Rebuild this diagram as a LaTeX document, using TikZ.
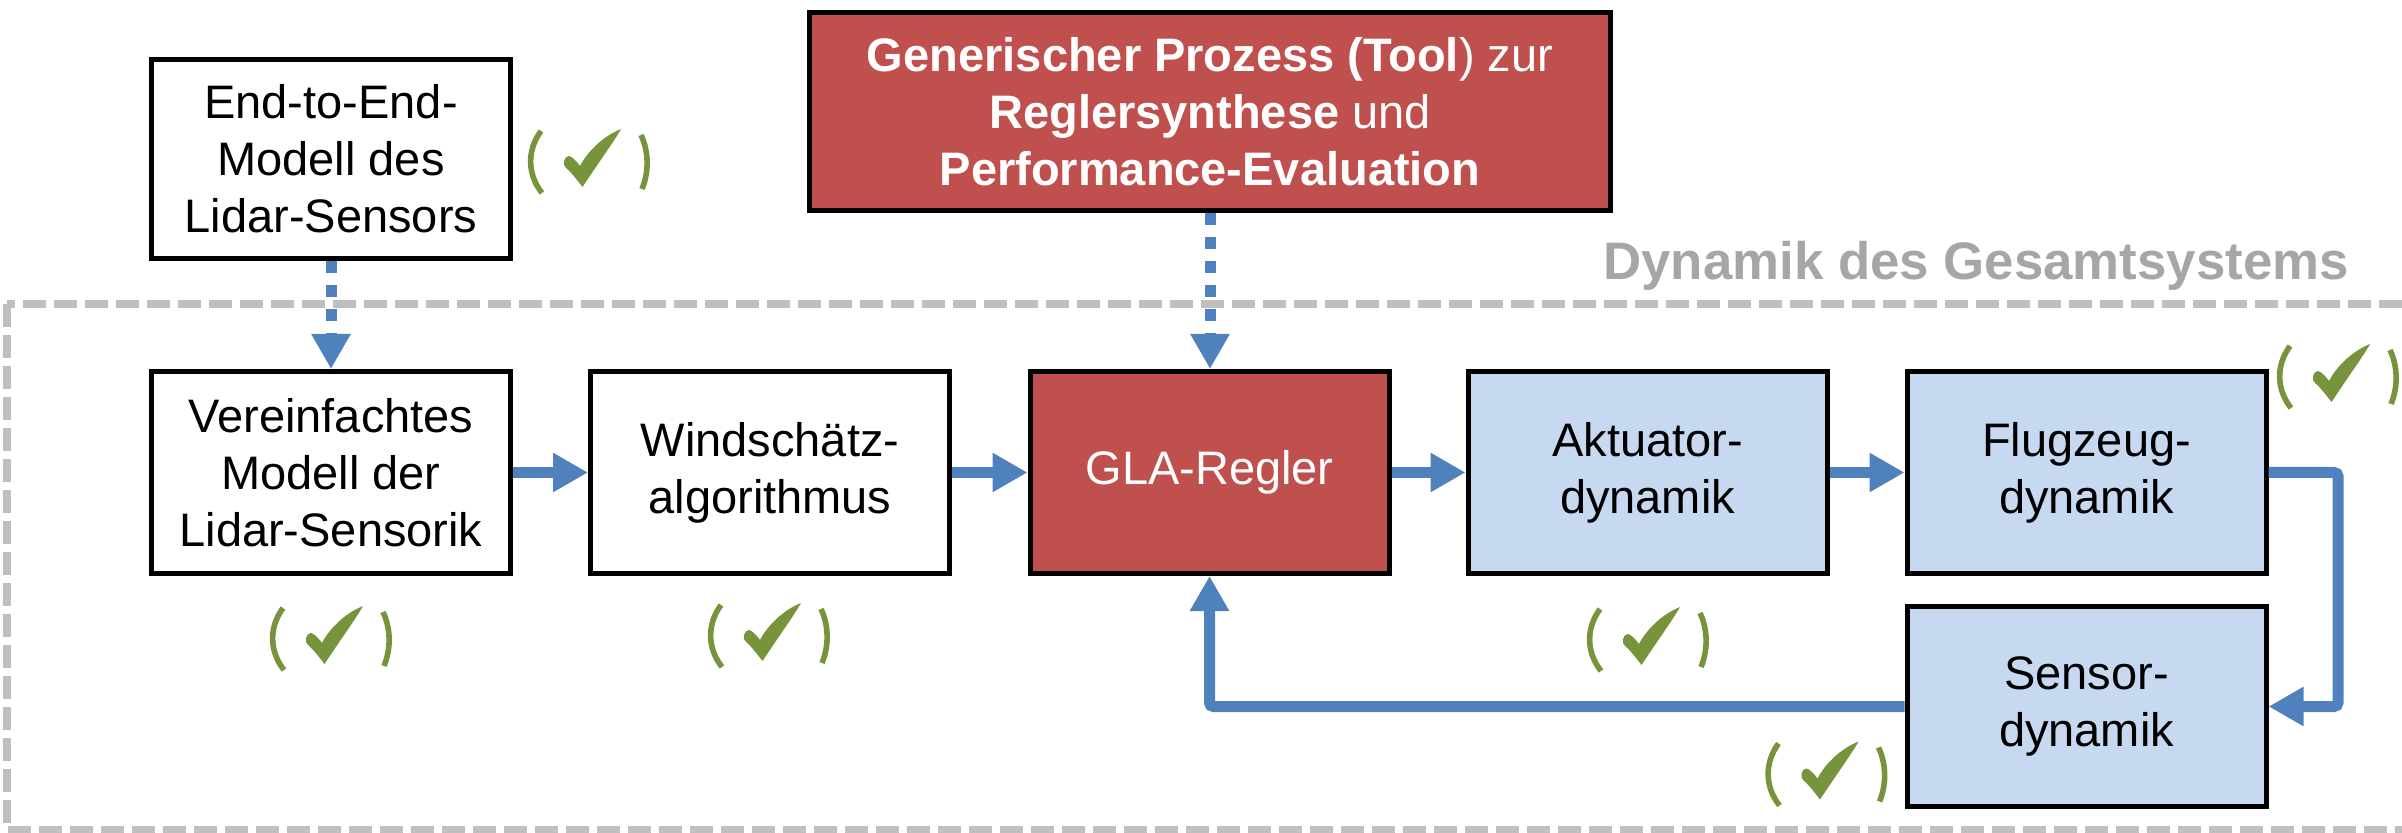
\documentclass[tikz,border=0pt]{standalone}
\usepackage{fontspec}
\setmainfont{Liberation Sans}
\usetikzlibrary{arrows.meta}
\definecolor{blueA}{HTML}{4F81BD}
\definecolor{redBox}{HTML}{C0504D}
\definecolor{blueBox}{HTML}{C6D9F0}
\definecolor{grayD}{HTML}{BFBFBF}
\definecolor{grayT}{HTML}{A6A6A6}
\definecolor{greenC}{HTML}{77933C}
\tikzset{
  blk/.style={draw=black, line width=2.5pt, minimum width=179.5pt, minimum height=101pt,
    inner sep=0pt, align=center, font=\fontsize{23.5}{28.5}\selectfont, text=black, fill=white},
  redblk/.style={blk, fill=redBox, text=white},
  blueblk/.style={blk, fill=blueBox},
  flow/.style={draw=blueA, line width=5.5pt, -{Triangle[length=17.5pt,width=18.5pt]}},
  dflow/.style={flow, dash pattern=on 6pt off 6pt},
  chk/.pic={
    \draw[greenC, line width=2.8pt] (-48,-31) .. controls (-62,-12) and (-62,12) .. (-47,31);
    \draw[greenC, line width=2.8pt] (52,-27) .. controls (60,-10) and (60,10) .. (53,27);
    \fill[greenC] (-6.5,25) .. controls (-12,18) and (-18,10) .. (-23,6)
      .. controls (-27,3) and (-25,-6) .. (-20,-6)
      .. controls (-16,-5) and (-12,0) .. (-9,4)
      .. controls (-3,-8) and (12,-25) .. (32,-33)
      .. controls (26,-22) and (10,0) .. (-6.5,25) -- cycle;
  }
}
\begin{document}
\begin{tikzpicture}[x=0.5pt,y=-0.5pt]
\useasboundingbox (0,0) rectangle (2402,833);
\clip (0,0) rectangle (2402,833);
% system frame
\draw[grayD, line width=4pt, dash pattern=on 11.5pt off 4pt] (7,304) rectangle (2430,830);
\node[anchor=base east, text=grayT, font=\fontsize{26.4}{30}\selectfont\bfseries] (dyn) at (2356,280) {Dynamik des Gesamtsystems};
% boxes
\node[blk, minimum height=99.5pt] (e2e) at (331,159) {End-to-End-\\Modell des\\Lidar-Sensors};
\node[redblk, minimum width=400.5pt, minimum height=99pt] (gen) at (1210,111.5)
  {{\bfseries Generischer Prozess (Tool}) zur\\{\bfseries Reglersynthese} und\\{\bfseries Performance-Evaluation}};
\node[blk] (vere) at (331,472.5) {Vereinfachtes\\Modell der\\Lidar-Sensorik};
\node[blk] (wind) at (770,472.5) {Windschätz-\\algorithmus};
\node[redblk] (gla) at (1209.5,472.5) {GLA-Regler};
\node[blueblk] (akt) at (1647.5,472.5) {Aktuator-\\dynamik};
\node[blueblk] (flug) at (2086.5,472.5) {Flugzeug-\\dynamik};
\node[blueblk, minimum height=100pt] (sens) at (2086.5,706.5) {Sensor-\\dynamik};
% connectors
\draw[dflow] (e2e.south) -- (vere.north);
\draw[dflow] (gen.south) -- (gen.south |- gla.north);
\draw[flow] (vere.east) -- (wind.west);
\draw[flow] (wind.east) -- (gla.west);
\draw[flow] (gla.east) -- (akt.west);
\draw[flow] (akt.east) -- (flug.west);
\coordinate (fbR) at (2338,472.5);
\draw[flow, rounded corners=2pt] (flug.east) -- (fbR) |- (sens.east);
\draw[flow, rounded corners=2pt] (sens.west) -| (gla.south);
% check marks
\pic at (589,162) {chk};
\pic at (331,639) {chk};
\pic at (769,636) {chk};
\pic at (1648,640) {chk};
\pic at (1826.5,774.5) {chk};
\pic at (2338,377) {chk};
\end{tikzpicture}
\end{document}
